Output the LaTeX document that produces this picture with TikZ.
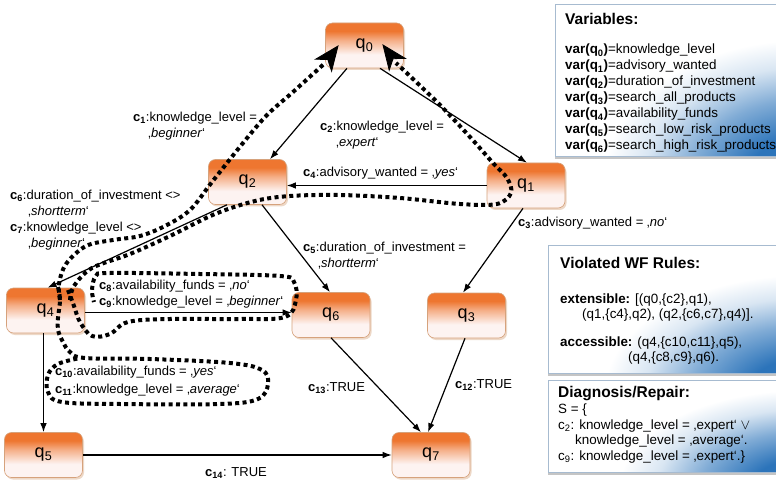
\documentclass[tikz,border=0pt]{standalone}
\usepackage{fontspec}
\setmainfont{Liberation Sans}
\usetikzlibrary{arrows.meta,shadows}

\definecolor{qorange}{HTML}{EE7630}
\definecolor{qpale}{HTML}{FDF3F1}
\definecolor{qedge}{HTML}{D6A27C}
\definecolor{pblue}{HTML}{2C74BA}
\definecolor{pedge}{HTML}{A7BBD0}

% state boxes: strong orange on top, fading to a pale bottom
\pgfdeclareverticalshading{stateshade}{100bp}{color(0bp)=(qpale); color(25bp)=(qpale); color(40bp)=(qpale); color(56bp)=(qorange!55!qpale); color(66bp)=(qorange); color(100bp)=(qorange)}
% blue glow in the lower right corner of the side panels
\pgfdeclareradialshading{panelglow}{\pgfpoint{0bp}{0bp}}{color(0bp)=(pblue); color(7bp)=(pblue); color(14bp)=(pblue!60); color(20bp)=(pblue!18); color(25bp)=(white); color(50bp)=(white)}

\newcommand\clab[1]{\textbf{c\textsubscript{#1}}}

\begin{document}
\begin{tikzpicture}[x=1pt,y=-1pt,
  state/.style={rectangle, rounded corners=7pt, minimum width=78pt, minimum height=45pt,
    draw=qedge, line width=0.6pt, shade, shading=stateshade,
    font=\fontsize{18}{20}\selectfont,
    drop shadow={shadow xshift=1.5pt, shadow yshift=-2pt, fill=qedge!70, opacity=.6}},
  edge/.style={line width=1.2pt, -{Latex[length=9pt,width=6.5pt]}},
  lab/.style={inner sep=0pt, anchor=north west, align=left, font=\fontsize{13}{16}\selectfont},
  ptitle/.style={inner sep=0pt, anchor=north west, font=\bfseries\fontsize{15.5}{18}\selectfont},
  ptext/.style={inner sep=0pt, anchor=north west, align=left, font=\fontsize{13.4}{#1}\selectfont},
  hl/.style={line width=4pt, dash pattern=on 4pt off 3.4pt},
  hltip/.style={fill=black, draw=black, line width=0.8pt, line join=miter}
]
\useasboundingbox (0,0) rectangle (776,481);
\fill[white] (0,0) rectangle (776,481);

% ---- side panels ----
\fill[black!45, opacity=.5] (555,7) rectangle (792,159.5);
\fill[black!45, opacity=.5] (548,247) rectangle (792,375.5);
\fill[black!45, opacity=.5] (548,382) rectangle (792,474.5);
\begin{scope}
  \clip (555,5) rectangle (792,157);
  \fill[white] (555,5) rectangle (792,157);
  \shade[shading=panelglow] (805,175) ellipse (200 and 135);
\end{scope}
\begin{scope}
  \clip (548,245) rectangle (792,373);
  \fill[white] (548,245) rectangle (792,373);
  \shade[shading=panelglow] (805,390) ellipse (200 and 115);
\end{scope}
\begin{scope}
  \clip (548,380) rectangle (792,472);
  \fill[white] (548,380) rectangle (792,472);
  \shade[shading=panelglow] (805,485) ellipse (185 and 95);
\end{scope}
\draw[pedge, line width=1pt] (555,5) rectangle (792,157);
\draw[pedge, line width=1pt] (548,245) rectangle (792,373);
\draw[pedge, line width=1pt] (548,380) rectangle (792,472);

\node[ptitle] (vt) at (565,13) {Variables:};
\node[ptext=16] (vl) at (565,44) {%
  \textbf{var(q\textsubscript{0})}=knowledge\_level\\
  \textbf{var(q\textsubscript{1})}=advisory\_wanted\\
  \textbf{var(q\textsubscript{2})}=duration\_of\_investment\\
  \textbf{var(q\textsubscript{3})}=search\_all\_products\\
  \textbf{var(q\textsubscript{4})}=availability\_funds\\
  \textbf{var(q\textsubscript{5})}=search\_low\_risk\_products\\
  \textbf{var(q\textsubscript{6})}=search\_high\_risk\_products};

\node[ptitle] (wt) at (560,257) {Violated WF Rules:};
\node[ptext=15] (we) at (560,294) {\textbf{extensible:} [(q0,\{c2\},q1),\\
  \hspace*{22pt}(q1,\{c4\},q2), (q2,\{c6,c7\},q4)].};
\node[ptext=15] (wa) at (560,337) {\textbf{accessible:} (q4,\{c10,c11\},q5),\\
  \hspace*{68pt}(q4,\{c8,c9\},q6).};

\node[ptitle] (dt) at (558,386) {Diagnosis/Repair:};
\node[ptext=15.5] (dl) at (558,404) {S = \{\\
  c\textsubscript{2}: knowledge\_level = ‚expert‘ $\vee$\\
  \hspace*{17pt}knowledge\_level = ‚average‘.\\
  c\textsubscript{9}: knowledge\_level = ‚expert‘.\}};

% ---- states ----
\node[state] (q0) at (364.5,45.5) {q\textsubscript{0}};
\node[state] (q2) at (247.5,182) {q\textsubscript{2}};
\node[state] (q1) at (526,185.5) {q\textsubscript{1}};
\node[state] (q4) at (45.5,310.5) {q\textsubscript{4}};
\node[state] (q6) at (331,315) {q\textsubscript{6}};
\node[state] (q3) at (466.5,315.5) {q\textsubscript{3}};
\node[state] (q5) at (43.5,455) {q\textsubscript{5}};
\node[state] (q7) at (431,455) {q\textsubscript{7}};

% ---- transitions ----
\draw[edge] ([xshift=-17.5pt]q0.south) -- ([xshift=22.5pt]q2.north);
\draw[edge] ([xshift=15.5pt]q0.south) -- ([xshift=1pt]q1.north);
\draw[edge] (q1.west) -- (q1.west -| q2.east);
\draw[edge] ([xshift=14.5pt]q2.south) -- ([xshift=-1pt]q6.north);
\draw[edge] ([xshift=-3pt]q1.south) -- ([xshift=-3.5pt]q3.north);
\draw[edge] ([xshift=-20.5pt]q2.south) -- ([xshift=2pt]q4.north);
\draw[edge] ([yshift=-2pt]q4.east) -- ([yshift=-2pt]q4.east -| q6.west);
\draw[edge] (q5.north |- q4.south) -- (q5.north);
\draw[edge] (q6.south) -- ([xshift=-10pt]q7.north);
\draw[edge] ([xshift=-1.5pt]q3.south) -- ([xshift=-3pt]q7.north);
\draw[edge] (q5.east) -- (q7.west);

% ---- conditions ----
\node[lab] (l1) at (133,112) {\clab{1}:knowledge\_level =\\\hspace*{15pt}‚\textit{beginner}‘};
\node[lab] (l2) at (320,121) {\clab{2}:knowledge\_level =\\\hspace*{16pt}‚\textit{expert}‘};
\node[lab] (l4) at (303,167) {\clab{4}:advisory\_wanted = ‚\textit{yes}‘};
\node[lab] (l3) at (518,217) {\clab{3}:advisory\_wanted = ‚\textit{no}‘};
\node[lab] (l5) at (303,242) {\clab{5}:duration\_of\_investment =\\\hspace*{15pt}‚\textit{shortterm}‘};
\node[lab] (l67) at (10,190) {\clab{6}:duration\_of\_investment <>\\\hspace*{18pt}‚\textit{shortterm}‘\\
  \clab{7}:knowledge\_level <>\\\hspace*{18pt}‚\textit{beginner}‘};
\node[lab] (l89) at (99,280) {\clab{8}:availability\_funds = ‚\textit{no}‘\\\clab{9}:knowledge\_level = ‚\textit{beginner}‘};
\node[lab, font=\fontsize{13}{17.5}\selectfont] (l1011) at (55,366) {\clab{10}:availability\_funds = ‚\textit{yes}‘\\\clab{11}:knowledge\_level = ‚\textit{average}‘};
\node[lab] (l13) at (308,382) {\clab{13}:TRUE};
\node[lab] (l12) at (455,379) {\clab{12}:TRUE};
\node[lab] (l14) at (205,467) {\clab{14}: TRUE};

% ---- highlighted diagnosis paths ----
\draw[hl] plot[smooth, tension=0.55] coordinates {(60,300) (59,284) (66,264) (86,246) (113,240) (140,236) (165,226) (190,210) (212,182) (243,143) (267,115) (293,92) (325,63)};
\draw[hl] plot[smooth, tension=0.55] coordinates {(70,300) (74,286) (92,268) (130,254) (170,236) (215,214) (255,201) (290,196) (340,195) (400,198) (460,204) (497,204) (511,193) (507,178) (493,163) (470,137) (440,105) (412,78) (396,63)};
% large arrow heads pointing into q0
\filldraw[hltip] (338,46) -- (331.6,71.2) -- (327.8,59.6) -- (315.6,59.2) -- cycle;
\filldraw[hltip] (383,45) -- (405.3,58.4) -- (393.1,58.7) -- (389.2,70.2) -- cycle;
\draw[hl] plot[smooth, tension=0.6] coordinates {(68,290) (74,306) (80,322) (92,336) (110,334) (128,322) (170,319) (240,319) (285,317) (296,300) (294,282) (280,276) (200,274) (110,273) (96,276) (92,290) (94,302)};
\draw[hl] plot[smooth, tension=0.6] coordinates {(58,287) (60,300) (58,318) (58,330) (63,342) (70,352) (85,358) (150,359) (230,363) (262,370) (268,384) (258,399) (220,404) (120,404) (62,402) (48,392) (48,375) (58,364) (80,358)};
\end{tikzpicture}
\end{document}
